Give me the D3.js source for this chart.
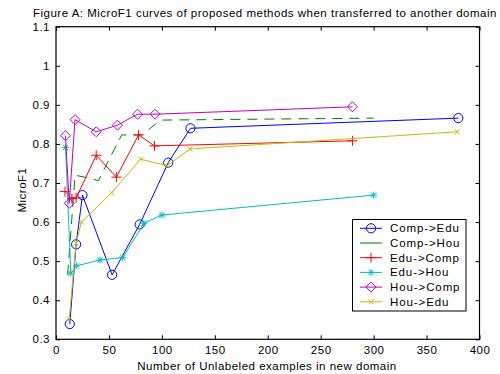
<!DOCTYPE html>
<html>
<head>
<meta charset="utf-8">
<script src="https://cdn.jsdelivr.net/npm/d3@7"></script>
<style>
  html, body { margin: 0; padding: 0; background: #fff; }
  svg { display: block; font-family: Arial, "Liberation Sans", sans-serif; }
</style>
</head>
<body>
<svg id="chart" width="500" height="374"></svg>
<script>
// MicroF1 against the number of unlabeled examples in the new domain
const seriesNames = ["Comp->Edu", "Comp->Hou", "Edu->Comp", "Edu->Hou", "Hou->Comp", "Hou->Edu"];

const compEduX = [13, 19, 25, 53, 79, 106, 127, 380];
const compEduY = [0.339, 0.543, 0.669, 0.465, 0.594, 0.752, 0.840, 0.866];

const compHouX = [11, 18, 32, 40, 62, 81, 99, 300];
const compHouY = [0.465, 0.72, 0.712, 0.706, 0.823, 0.823, 0.861, 0.866];

const eduCompX = [8.5, 15, 19, 38, 57, 78, 93, 280];
const eduCompY = [0.678, 0.660, 0.662, 0.771, 0.715, 0.823, 0.795, 0.808];

const eduHouX = [9, 14, 19.5, 41.5, 63, 83, 100, 300];
const eduHouY = [0.791, 0.469, 0.488, 0.503, 0.509, 0.597, 0.618, 0.669];

const houCompX = [9, 12.5, 18, 38, 58, 77, 93.5, 280];
const houCompY = [0.821, 0.648, 0.862, 0.831, 0.848, 0.876, 0.876, 0.895];

const houEduX = [12.5, 19, 24, 52.5, 80, 105, 126.5, 379];
const houEduY = [0.352, 0.546, 0.600, 0.675, 0.761, 0.744, 0.787, 0.831];

const xTicks = [0, 50, 100, 150, 200, 250, 300, 350, 400];
const yTicks = [0.3, 0.4, 0.5, 0.6, 0.7, 0.8, 0.9, 1, 1.1];

const seriesX = [compEduX, compHouX, eduCompX, eduHouX, houCompX, houEduX];
const seriesY = [compEduY, compHouY, eduCompY, eduHouY, houCompY, houEduY];
const colors = ["#0000ff", "#008000", "#ff0000", "#00bfbf", "#bf00bf", "#bfbf00"];
const markers = ["circle", "none", "plus", "star", "diamond", "cross"];
const dashes = [null, "10,7", null, null, null, null];

const svg = d3.select("#chart");
const plotL = 56, plotR = 479.5, plotT = 26.7, plotB = 339.3;
const fontSize = 11.5, spacing = 0.5;

const x = d3.scaleLinear().domain([0, 400]).range([plotL, plotR]);
const y = d3.scaleLinear().domain([0.3, 1.1]).range([plotB, plotT]);

// Title
svg.append("text")
  .attr("x", 33).attr("y", 17)
  .attr("font-size", fontSize).attr("letter-spacing", spacing).attr("fill", "#000")
  .text("Figure A: MicroF1 curves of proposed methods when transferred to another domain");

// Axes: ticks point inward on all four sides
const tickLen = 4;
const gx = svg.append("g").attr("transform", `translate(0,${plotB})`)
  .call(d3.axisBottom(x).tickValues(xTicks).tickSize(-tickLen).tickPadding(7).tickFormat(d3.format("d")));
const gxt = svg.append("g").attr("transform", `translate(0,${plotT})`)
  .call(d3.axisTop(x).tickValues(xTicks).tickSize(-tickLen).tickFormat(""));
const gy = svg.append("g").attr("transform", `translate(${plotL},0)`)
  .call(d3.axisLeft(y).tickValues(yTicks).tickSize(-tickLen).tickPadding(6).tickFormat(d => String(+d.toFixed(1))));
const gyr = svg.append("g").attr("transform", `translate(${plotR},0)`)
  .call(d3.axisRight(y).tickValues(yTicks).tickSize(-tickLen).tickFormat(""));

[gx, gxt, gy, gyr].forEach(g => {
  g.select(".domain").remove();
  g.selectAll(".tick line").attr("stroke", "#000").attr("stroke-width", 1);
  g.selectAll(".tick text").attr("font-size", fontSize).attr("letter-spacing", spacing)
    .attr("fill", "#000").attr("font-family", "Arial, 'Liberation Sans', sans-serif");
});

// Plot box
svg.append("rect")
  .attr("x", plotL).attr("y", plotT)
  .attr("width", plotR - plotL).attr("height", plotB - plotT)
  .attr("fill", "none").attr("stroke", "#000").attr("stroke-width", 1.2);

// Axis labels
svg.append("text")
  .attr("x", 267).attr("y", 369.5)
  .attr("text-anchor", "middle").attr("font-size", fontSize).attr("letter-spacing", spacing).attr("fill", "#000")
  .text("Number of Unlabeled examples in new domain");
svg.append("text")
  .attr("transform", `translate(26,190) rotate(-90)`)
  .attr("text-anchor", "middle").attr("font-size", fontSize).attr("letter-spacing", spacing).attr("fill", "#000")
  .text("MicroF1");

function drawMarker(g, type, cx, cy, color) {
  const s = g.append("g").attr("transform", `translate(${cx},${cy})`)
    .attr("fill", "none").attr("stroke", color).attr("stroke-width", 1);
  if (type === "circle") {
    s.append("circle").attr("r", 4.6);
  } else if (type === "plus") {
    s.append("path").attr("d", "M-5,0H5M0,-5V5");
  } else if (type === "star") {
    s.append("path").attr("d", "M-3.5,0H3.5M0,-3.5V3.5M-2.6,-2.6L2.6,2.6M-2.6,2.6L2.6,-2.6");
  } else if (type === "diamond") {
    s.append("path").attr("d", "M0,-5L5,0L0,5L-5,0Z");
  } else if (type === "cross") {
    s.append("path").attr("d", "M-2.5,-2.5L2.5,2.5M-2.5,2.5L2.5,-2.5");
  }
}

const line = d3.line().x(d => x(d[0])).y(d => y(d[1]));
const plot = svg.append("g");
seriesNames.forEach((name, i) => {
  const pts = seriesX[i].map((v, j) => [v, seriesY[i][j]]);
  const g = plot.append("g");
  g.append("path").datum(pts).attr("d", line)
    .attr("fill", "none").attr("stroke", colors[i]).attr("stroke-width", 1)
    .attr("stroke-dasharray", dashes[i]);
  pts.forEach(p => drawMarker(g, markers[i], x(p[0]), y(p[1]), colors[i]));
});

// Legend
const lg = svg.append("g");
lg.append("rect").attr("x", 352.5).attr("y", 219.5).attr("width", 113.5).attr("height", 91.5)
  .attr("fill", "#fff").attr("stroke", "#000").attr("stroke-width", 1);
seriesNames.forEach((name, i) => {
  const ry = 228.3 + i * 14.7;
  lg.append("line").attr("x1", 360).attr("x2", 382).attr("y1", ry).attr("y2", ry)
    .attr("stroke", colors[i]).attr("stroke-width", 1);
  drawMarker(lg, markers[i], 371, ry, colors[i]);
  lg.append("text").attr("x", 390).attr("y", ry + 4)
    .attr("font-size", fontSize).attr("letter-spacing", 0.9).attr("fill", "#000").text(name);
});
</script>
</body>
</html>
